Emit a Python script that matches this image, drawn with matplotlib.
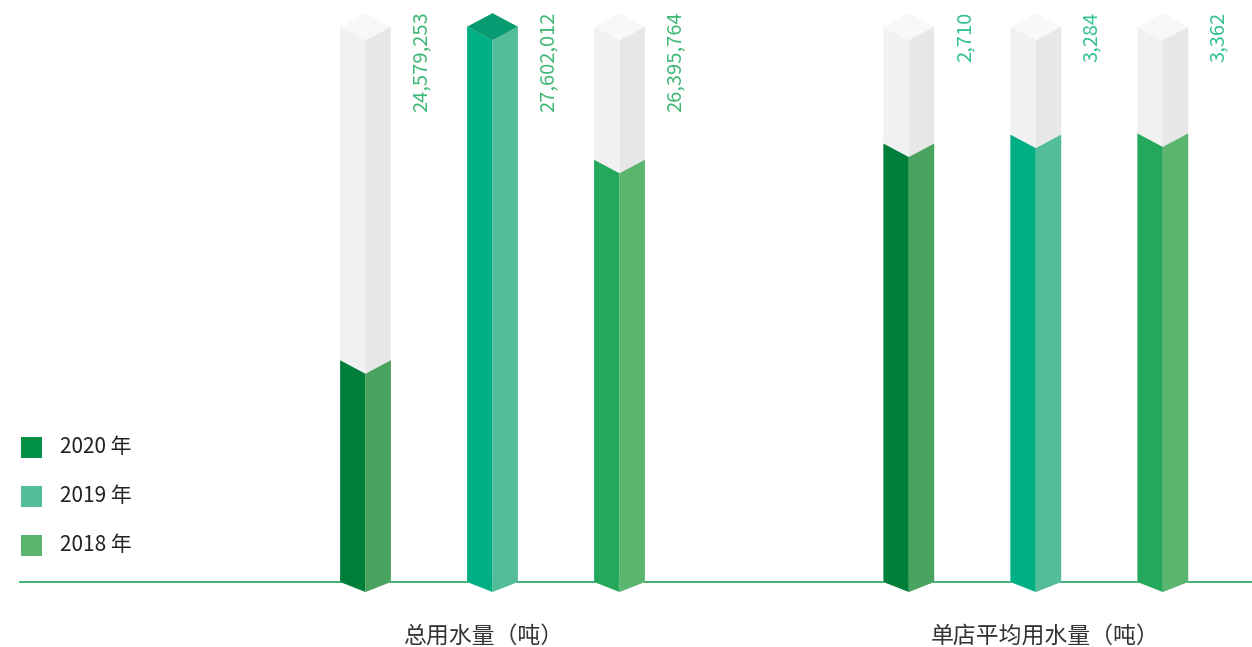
import matplotlib.pyplot as plt
from matplotlib.patches import Polygon, Rectangle
from matplotlib.lines import Line2D

plt.rcParams['font.family'] = ['Noto Sans CJK SC', 'DejaVu Sans']

# data
years = ['2020 年', '2019 年', '2018 年']
groups = ['总用水量（吨）', '单店平均用水量（吨）']
total_water = [24579253, 27602012, 26395764]
avg_water = [2710, 3284, 3362]
# value axis range of each panel
total_ylim = (22570000, 27602012)
avg_ylim = (-25500, 10230)

# colours: (left face, right face, top cap)
bar_colors = [('#007f3a', '#4aa35f', '#00763a'),
              ('#00b084', '#52bd98', '#089a70'),
              ('#24a85c', '#5ab56e', '#1c9a52')]
gray = ('#f1f1f1', '#e7e7e7', '#f8f8f8')
legend_colors = ['#008f45', '#52bd98', '#5cb56e']
label_colors = ['#3db874', '#33c28e']

W, H = 1252, 647
fig = plt.figure(figsize=(W / 100, H / 100), dpi=100)

base_px = 582      # baseline, from top
top_px = 26.7      # top of the full (gray) prism
depth_px = 13.5    # iso depth of the caps
bottom_px = 10     # depth of the V at the foot
half_w = 0.2       # half bar width in category units


def prism(ax, x, y0, y1, d, db, cols, cap=True):
    left, right, top = cols
    ax.add_patch(Polygon([(x - half_w, y0), (x, y0 - db), (x, y1 - d), (x - half_w, y1)],
                         closed=True, fc=left, ec='none', clip_on=False))
    ax.add_patch(Polygon([(x, y0 - db), (x + half_w, y0), (x + half_w, y1), (x, y1 - d)],
                         closed=True, fc=right, ec='none', clip_on=False))
    if cap:
        ax.add_patch(Polygon([(x - half_w, y1), (x, y1 + d), (x + half_w, y1), (x, y1 - d)],
                             closed=True, fc=top, ec='none', clip_on=False))


panels = [(302, total_water, total_ylim, label_colors[0]),
          (845.3, avg_water, avg_ylim, label_colors[1])]

for left_px, values, ylim, lab_col in panels:
    ax = fig.add_axes([left_px / W, (H - base_px) / H, 381 / W, (base_px - top_px) / H])
    ax.set_xlim(-0.5, 2.5)
    ax.set_ylim(*ylim)
    ax.axis('off')
    lo, hi = ylim
    unit = (hi - lo) / (base_px - top_px)
    d, db = depth_px * unit, bottom_px * unit
    for i, v in enumerate(values):
        prism(ax, i, lo, hi, d, db, gray)
        prism(ax, i, lo, v, d, db, bar_colors[i], cap=v >= hi)
        ax.text(i + 0.44, hi + d + 1.5 * unit, f'{v:,}', rotation=90, ha='center', va='top',
                fontsize=14.5, color=lab_col, fontweight='light')

# baseline, behind the bars
fig.add_artist(Line2D([20 / W, 1], [(H - base_px) / H] * 2, transform=fig.transFigure,
                      color='#2dab66', lw=1.3, zorder=-1))

# category labels
for name, cx in zip(groups, [483, 1045]):
    fig.text(cx / W, (H - 636) / H, name, ha='center', va='center',
             fontsize=16.5, color='#333333')

# legend
for k, (yr, col) in enumerate(zip(years, legend_colors)):
    cy = 447 + k * 49
    fig.add_artist(Rectangle((21 / W, (H - cy - 10.5) / H), 21 / W, 21 / H,
                             transform=fig.transFigure, fc=col, ec='none'))
    fig.text(60 / W, (H - cy) / H, yr, ha='left', va='center', fontsize=15, color='#222222')

fig.savefig('out.png', dpi=100, facecolor='white')
